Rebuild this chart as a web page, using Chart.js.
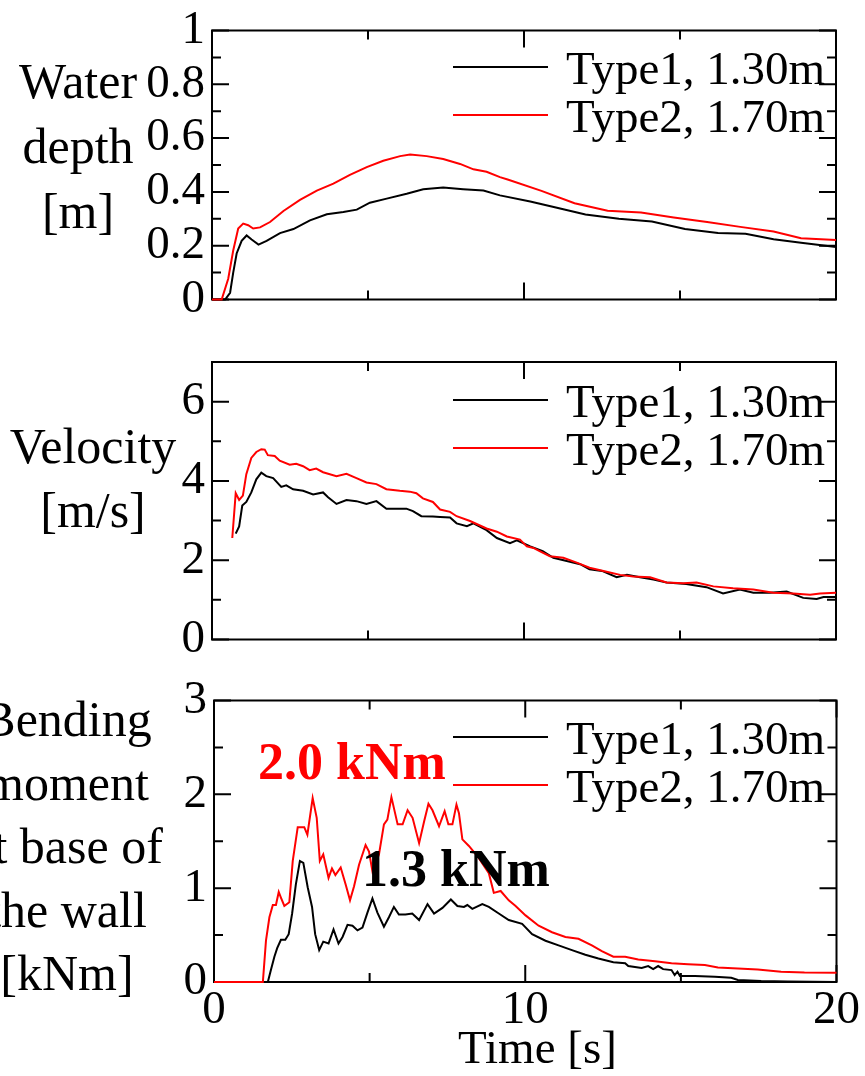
<!DOCTYPE html>
<html>
<head>
<meta charset="utf-8">
<script src="https://cdn.jsdelivr.net/npm/chart.js@4.4.1/dist/chart.umd.min.js"></script>
<style>
  body { margin: 0; background: #fff; }
  #fig { position: relative; width: 865px; height: 1076px; overflow: hidden;
         font-family: 'Liberation Serif', 'Times New Roman', serif; color: #000; }
  #fig canvas { position: absolute; left: 0; }
  .txt { position: absolute; line-height: 1; white-space: nowrap; }
  .key { position: absolute; height: 2px; }
</style>
</head>
<body>
<div id="fig">
  <canvas id="depthChart" width="865" height="330" style="top:0px"></canvas>
  <canvas id="velChart" width="865" height="340" style="top:330px"></canvas>
  <canvas id="momChart" width="865" height="406" style="top:670px"></canvas>
</div>
<script>
const seriesNames = ["Type1, 1.30m", "Type2, 1.70m"];
const seriesColors = ["#000000", "#ff0000"];

// water depth [m]
const depthTime1 = [0, 0.42, 0.58, 0.68, 0.79, 0.95, 1.11, 1.27, 1.49, 1.75, 2.18, 2.61, 3.14, 3.68, 4.21, 4.64, 5.06, 5.6, 6.24, 6.77, 7.41, 8.05, 8.7, 9.23, 10.2, 11.09, 11.97, 13.04, 14.1, 15.16, 16.22, 17.1, 18.0, 18.88, 20];
const depth1 = [0, 0, 0.025, 0.10, 0.171, 0.218, 0.238, 0.223, 0.204, 0.218, 0.247, 0.262, 0.294, 0.317, 0.325, 0.334, 0.36, 0.375, 0.393, 0.41, 0.416, 0.41, 0.405, 0.387, 0.364, 0.34, 0.316, 0.30, 0.29, 0.262, 0.247, 0.244, 0.224, 0.211, 0.195];
const depthTime2 = [0, 0.31, 0.52, 0.68, 0.84, 1.0, 1.16, 1.32, 1.54, 1.86, 2.29, 2.82, 3.36, 3.89, 4.42, 4.96, 5.49, 6.03, 6.35, 6.88, 7.41, 7.95, 8.38, 8.8, 9.23, 9.5, 10.56, 11.62, 12.68, 13.75, 14.8, 15.87, 16.93, 18.0, 18.88, 20];
const depth2 = [0, 0, 0.077, 0.182, 0.264, 0.282, 0.276, 0.264, 0.268, 0.288, 0.329, 0.37, 0.405, 0.431, 0.463, 0.492, 0.516, 0.533, 0.539, 0.533, 0.522, 0.504, 0.484, 0.475, 0.455, 0.445, 0.404, 0.358, 0.33, 0.323, 0.305, 0.288, 0.27, 0.253, 0.228, 0.221];

// velocity [m/s]
const velTime1 = [0.76, 0.87, 0.97, 1.10, 1.26, 1.42, 1.58, 1.74, 1.96, 2.22, 2.38, 2.6, 2.92, 3.24, 3.56, 3.72, 3.99, 4.31, 4.63, 4.95, 5.27, 5.59, 5.91, 6.23, 6.44, 6.71, 7.08, 7.31, 7.63, 7.84, 8.17, 8.38, 8.8, 9.13, 9.55, 9.77, 10.2, 10.6, 10.94, 11.37, 11.8, 12.1, 12.5, 12.97, 13.3, 13.72, 14.15, 14.57, 15.2, 15.85, 16.38, 16.92, 17.35, 17.88, 18.42, 18.95, 19.38, 19.6, 20];
const vel1 = [2.67, 2.85, 3.38, 3.47, 3.71, 4.04, 4.21, 4.12, 4.07, 3.85, 3.89, 3.79, 3.75, 3.66, 3.71, 3.59, 3.42, 3.52, 3.49, 3.42, 3.49, 3.3, 3.3, 3.3, 3.24, 3.11, 3.1, 3.09, 3.08, 2.93, 2.86, 2.93, 2.76, 2.56, 2.43, 2.5, 2.35, 2.23, 2.06, 1.98, 1.9, 1.77, 1.73, 1.57, 1.63, 1.57, 1.51, 1.44, 1.4, 1.32, 1.16, 1.26, 1.18, 1.18, 1.21, 1.05, 1.02, 1.07, 1.07];
const velTime2 = [0.65, 0.76, 0.87, 0.99, 1.10, 1.26, 1.42, 1.58, 1.69, 1.79, 2.01, 2.17, 2.49, 2.7, 2.92, 3.13, 3.34, 3.56, 3.99, 4.31, 4.63, 4.95, 5.27, 5.59, 6.02, 6.34, 6.55, 6.76, 7.08, 7.31, 7.63, 7.84, 8.27, 8.8, 9.13, 9.45, 9.87, 10.09, 10.3, 10.5, 10.83, 11.26, 11.69, 12.1, 12.65, 13.08, 13.5, 14.04, 14.57, 15.1, 15.53, 16.07, 16.7, 17.35, 17.99, 18.63, 19.17, 19.49, 20];
const vel2 = [2.56, 3.69, 3.52, 3.63, 4.17, 4.58, 4.73, 4.8, 4.79, 4.65, 4.63, 4.51, 4.41, 4.43, 4.37, 4.27, 4.31, 4.22, 4.12, 4.18, 4.07, 3.96, 3.92, 3.79, 3.75, 3.73, 3.69, 3.56, 3.47, 3.28, 3.22, 3.11, 2.99, 2.8, 2.72, 2.6, 2.52, 2.35, 2.31, 2.23, 2.1, 2.06, 1.94, 1.81, 1.71, 1.63, 1.59, 1.57, 1.44, 1.42, 1.44, 1.34, 1.29, 1.26, 1.18, 1.16, 1.13, 1.16, 1.18];

// bending moment at base of the wall [kNm]
const momTime1 = [0, 1.73, 1.83, 1.94, 2.03, 2.15, 2.29, 2.4, 2.51, 2.63, 2.76, 2.87, 3.01, 3.15, 3.25, 3.38, 3.51, 3.68, 3.84, 4.0, 4.13, 4.29, 4.45, 4.61, 4.77, 4.93, 5.09, 5.25, 5.46, 5.62, 5.78, 5.94, 6.15, 6.37, 6.59, 6.86, 7.07, 7.34, 7.61, 7.82, 8.03, 8.14, 8.3, 8.62, 8.83, 9.15, 9.47, 9.9, 10.22, 10.65, 11.07, 11.5, 11.93, 12.35, 12.83, 13.21, 13.31, 13.74, 13.95, 14.11, 14.27, 14.43, 14.7, 14.8, 14.89, 14.97, 15.45, 16.09, 16.62, 16.83, 17.58, 18.43, 20];
const mom1 = [0, 0, 0.13, 0.27, 0.36, 0.45, 0.45, 0.51, 0.73, 1.04, 1.29, 1.27, 1.01, 0.8, 0.51, 0.34, 0.43, 0.41, 0.56, 0.41, 0.48, 0.61, 0.6, 0.55, 0.58, 0.74, 0.89, 0.74, 0.59, 0.69, 0.8, 0.72, 0.72, 0.73, 0.66, 0.83, 0.73, 0.79, 0.88, 0.81, 0.8, 0.82, 0.78, 0.83, 0.8, 0.73, 0.66, 0.62, 0.51, 0.44, 0.39, 0.34, 0.29, 0.25, 0.21, 0.2, 0.17, 0.15, 0.17, 0.137, 0.17, 0.137, 0.127, 0.074, 0.11, 0.063, 0.063, 0.056, 0.045, 0.021, 0.01, 0.005, 0];
const momTime2 = [0, 1.57, 1.67, 1.78, 1.89, 1.99, 2.08, 2.15, 2.26, 2.42, 2.53, 2.69, 2.9, 3.0, 3.17, 3.3, 3.4, 3.51, 3.68, 3.79, 3.9, 4.07, 4.23, 4.37, 4.5, 4.66, 4.87, 4.98, 5.09, 5.3, 5.46, 5.57, 5.7, 5.9, 6.06, 6.22, 6.38, 6.59, 6.75, 6.89, 7.02, 7.23, 7.41, 7.53, 7.66, 7.79, 7.87, 7.98, 8.19, 8.51, 8.83, 8.99, 9.21, 9.47, 9.69, 10.01, 10.43, 10.86, 11.29, 11.71, 12.14, 12.46, 12.83, 13.21, 13.63, 14.17, 14.7, 15.23, 15.77, 16.19, 16.83, 17.47, 18.22, 18.97, 20];
const mom2 = [0, 0, 0.44, 0.69, 0.82, 0.82, 0.96, 0.9, 0.81, 0.85, 1.29, 1.65, 1.65, 1.57, 1.96, 1.75, 1.29, 1.36, 1.11, 1.21, 1.14, 1.22, 1.04, 0.87, 1.02, 1.25, 1.46, 1.39, 1.18, 1.36, 1.68, 1.73, 1.97, 1.68, 1.68, 1.83, 1.75, 1.48, 1.71, 1.9, 1.83, 1.66, 1.82, 1.68, 1.68, 1.89, 1.8, 1.52, 1.45, 1.32, 1.16, 0.95, 0.97, 0.87, 0.81, 0.71, 0.6, 0.53, 0.48, 0.46, 0.39, 0.33, 0.27, 0.27, 0.24, 0.22, 0.2, 0.19, 0.18, 0.155, 0.145, 0.134, 0.11, 0.10, 0.098];

// tick labels
const timeTicks = [0, 10, 20];
const depthTicks = [0, 0.2, 0.4, 0.6, 0.8, 1];
const velTicks = [0, 2, 4, 6];
const momTicks = [0, 1, 2, 3];

const depthTitle = ["Water", "depth", "[m]"];
const velTitle = ["Velocity", "[m/s]"];
const momTitle = ["Bending", "moment", "at base of", "the wall", "[kNm]"];
const timeTitle = "Time [s]";
const peakLabels = ["1.3 kNm", "2.0 kNm"];

const FONT = "'Liberation Serif', 'Times New Roman', serif";
Chart.defaults.font.family = FONT;
Chart.defaults.color = "#000";

const fig = document.getElementById("fig");

function pts(ts, vs) {
  return ts.map((t, i) => ({ x: t, y: vs[i] }));
}

function isMajor(list, v) {
  return list.some(m => Math.abs(m - v) < 1e-6);
}

// box round the plot with inward ticks on all four sides (under the curves)
const boxTicks = {
  id: "boxTicks",
  beforeDatasetsDraw(chart, args, opts) {
    const { ctx, chartArea: a, scales } = chart;
    ctx.save();
    ctx.strokeStyle = "#000";
    ctx.lineWidth = 2;
    ctx.beginPath();
    scales.y.ticks.forEach(t => {
      const py = scales.y.getPixelForValue(t.value);
      const len = isMajor(opts.yMajor, t.value) ? 17 : 9;
      ctx.moveTo(a.left, py); ctx.lineTo(a.left + len, py);
      ctx.moveTo(a.right, py); ctx.lineTo(a.right - len, py);
    });
    scales.x.ticks.forEach(t => {
      const px = scales.x.getPixelForValue(t.value);
      const len = isMajor(opts.xMajor, t.value) ? 17 : 9;
      ctx.moveTo(px, a.bottom); ctx.lineTo(px, a.bottom - len);
      ctx.moveTo(px, a.top); ctx.lineTo(px, a.top + len);
    });
    ctx.stroke();
    ctx.strokeRect(a.left, a.top, a.right - a.left, a.bottom - a.top);
    ctx.restore();
  }
};

function makePanel(id, cfg) {
  return new Chart(document.getElementById(id), {
    type: "line",
    data: {
      datasets: cfg.series.map((s, i) => ({
        label: seriesNames[i],
        data: s,
        borderColor: seriesColors[i],
        borderWidth: 2,
        pointRadius: 0,
        tension: 0,
        fill: false,
        clip: 2,
        order: 1 - i   // red curve on top of black
      }))
    },
    options: {
      responsive: false,
      animation: false,
      events: [],
      layout: { padding: { top: cfg.top, right: cfg.right, left: 0, bottom: 0 } },
      plugins: {
        legend: { display: false },
        tooltip: { enabled: false },
        boxTicks: { yMajor: cfg.yLabels, xMajor: timeTicks }
      },
      scales: {
        x: {
          type: "linear", min: 0, max: 20,
          grid: { display: false, drawTicks: false },
          border: { display: false },
          ticks: {
            stepSize: 5, autoSkip: false, maxRotation: 0, display: cfg.showX,
            padding: 5, font: { size: 47, lineHeight: 1 },
            callback: v => isMajor(timeTicks, v) ? String(v) : ""
          },
          afterFit: s => { s.height = cfg.xH; }
        },
        y: {
          type: "linear", min: 0, max: cfg.yMax,
          grid: { display: false, drawTicks: false },
          border: { display: false },
          ticks: {
            stepSize: cfg.yStep, autoSkip: false, padding: 7,
            font: { size: 47, lineHeight: 1 },
            callback: v => isMajor(cfg.yLabels, v) ? String(Number(v.toFixed(1))) : ""
          },
          afterFit: s => { s.width = cfg.left; }
        }
      }
    },
    plugins: [boxTicks]
  });
}

makePanel("depthChart", {
  series: [pts(depthTime1, depth1), pts(depthTime2, depth2)],
  yMax: 1, yStep: 0.1, yLabels: depthTicks,
  top: 27, right: 29, left: 212, xH: 18, showX: false
});
makePanel("velChart", {
  series: [pts(velTime1, vel1), pts(velTime2, vel2)],
  yMax: 7, yStep: 1, yLabels: velTicks,
  top: 32, right: 29, left: 212, xH: 25, showX: false
});
makePanel("momChart", {
  series: [pts(momTime1, mom1), pts(momTime2, mom2)],
  yMax: 3, yStep: 0.5, yLabels: momTicks,
  top: 28, right: 26, left: 214, xH: 94, showX: true
});

// html text placed by its baseline
function addText(str, x, base, size, opt) {
  opt = opt || {};
  const el = document.createElement("div");
  el.className = "txt";
  el.textContent = str;
  el.style.fontSize = size + "px";
  el.style.top = (base - 0.8375 * size) + "px";
  el.style.left = x + "px";
  if (opt.center) el.style.transform = "translateX(-50%)";
  if (opt.bold) el.style.fontWeight = "bold";
  if (opt.color) el.style.color = opt.color;
  fig.appendChild(el);
}

function addTitle(lines, cx, base0, step) {
  lines.forEach((s, i) => addText(s, cx, base0 + i * step, 50, { center: true }));
}

function addLegend(y0) {
  seriesNames.forEach((name, i) => {
    const y = y0 + i * 48;
    const k = document.createElement("div");
    k.className = "key";
    k.style.left = "453px";
    k.style.width = "95px";
    k.style.top = (y - 1) + "px";
    k.style.background = seriesColors[i];
    fig.appendChild(k);
    addText(name, 566, y + 17, 47);
  });
}

addTitle(depthTitle, 78, 98, 65);
addTitle(velTitle, 93, 463, 64);
addTitle(momTitle, 67, 736, 63.5);
addText(timeTitle, 458, 1063, 47);

addLegend(67);
addLegend(400);
addLegend(737);

addText(peakLabels[1], 258, 780, 52, { bold: true, color: seriesColors[1] });
addText(peakLabels[0], 362, 887, 52, { bold: true, color: seriesColors[0] });
</script>
</body>
</html>
